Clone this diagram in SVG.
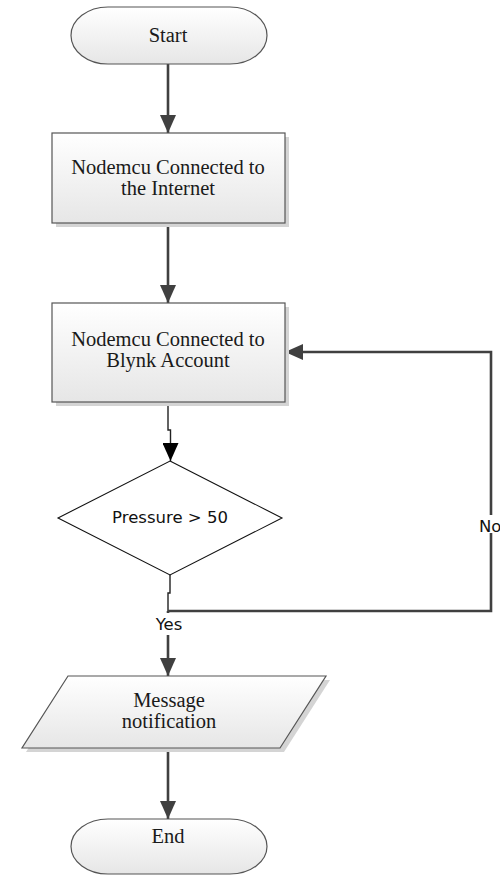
<svg xmlns="http://www.w3.org/2000/svg" width="500" height="876" viewBox="0 0 500 876">
<defs>
<linearGradient id="g" x1="0" y1="0" x2="0" y2="1">
<stop offset="0" stop-color="#ffffff"/>
<stop offset="1" stop-color="#e6e6e6"/>
</linearGradient>
<marker id="ah" viewBox="0 0 18 16" refX="18" refY="8" markerWidth="18" markerHeight="16" markerUnits="userSpaceOnUse" orient="auto">
<path d="M0,0 L18,8 L0,16 Z" fill="#404040"/>
</marker>
<marker id="ahb" viewBox="0 0 18 16" refX="18" refY="8" markerWidth="18" markerHeight="16" markerUnits="userSpaceOnUse" orient="auto">
<path d="M0,0 L18,8 L0,16 Z" fill="#000000"/>
</marker>
</defs>
<style>
.shape{fill:url(#g);stroke:#555555;stroke-width:1.2}
.shadow{fill:#d4d4d4}
.t{font-family:"Liberation Serif","Times New Roman",serif;font-size:20.5px;fill:#1a1a1a;text-anchor:middle}
.s{font-family:"DejaVu Sans","Verdana",sans-serif;font-size:16.5px;fill:#111111;text-anchor:middle}
.c{fill:none;stroke:#404040;stroke-width:2.6}
.cthin{fill:none;stroke:#222222;stroke-width:1.4}
</style>
<rect width="500" height="876" fill="#ffffff"/>
<g id="connectors">
<path class="c" d="M168,64 V133" marker-end="url(#ah)"/>
<path class="c" d="M168,223 V303" marker-end="url(#ah)"/>
<path class="cthin" d="M168,402 V430 H170.5 V461" marker-end="url(#ahb)"/>
<path class="cthin" d="M170,575 V593 H168 V611"/>
<path class="c" d="M168,611 H491 V352 H285" marker-end="url(#ah)"/>
<path class="c" d="M168,611 V676" marker-end="url(#ah)"/>
<path class="c" d="M168,748 V819" marker-end="url(#ah)"/>
<rect x="150" y="613" width="38" height="22" fill="#ffffff"/>
<rect x="478" y="515" width="22" height="18" fill="#ffffff"/>
<text class="s" x="169" y="630">Yes</text>
<text class="s" x="479" y="531.5" style="text-anchor:start">No</text>
</g>
<g id="start">
<rect class="shape" x="71" y="7" width="196" height="57" rx="37" ry="28.5"/>
<text class="t" x="168" y="42">Start</text>
</g>
<g id="internet">
<rect class="shadow" x="56" y="137" width="233" height="90"/>
<rect class="shape" x="52" y="133" width="233" height="90"/>
<text class="t" x="168" y="174">Nodemcu Connected to</text>
<text class="t" x="168" y="195">the Internet</text>
</g>
<g id="blynk">
<rect class="shadow" x="56" y="307" width="233" height="99"/>
<rect class="shape" x="52" y="303" width="233" height="99"/>
<text class="t" x="168" y="346">Nodemcu Connected to</text>
<text class="t" x="168" y="367">Blynk Account</text>
</g>
<g id="decision">
<path d="M170,461 L282,518 L170,575 L58,518 Z" fill="#ffffff" stroke="#111111" stroke-width="1.1"/>
<text class="s" x="170" y="523">Pressure &gt; 50</text>
</g>
<g id="message">
<path class="shadow" d="M72,680 L330,680 L284,752 L26,752 Z"/>
<path class="shape" d="M68,676 L326,676 L280,748 L22,748 Z"/>
<text class="t" x="169" y="707">Message</text>
<text class="t" x="169" y="728">notification</text>
</g>
<g id="end">
<rect class="shape" x="71" y="819" width="196" height="55" rx="37" ry="27.5"/>
<text class="t" x="168" y="843">End</text>
</g>
</svg>
